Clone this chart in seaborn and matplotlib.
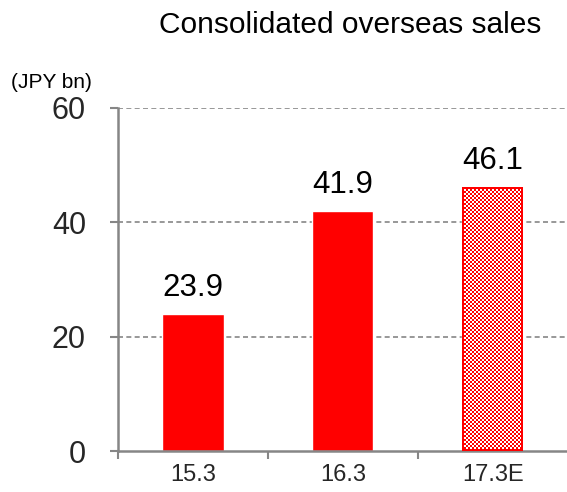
import numpy as np
import matplotlib
matplotlib.use("Agg")
import matplotlib.pyplot as plt
import matplotlib.colors as mcolors
import seaborn as sns

# Fiscal-year categories and overseas sales (JPY bn)
years = ["15.3", "16.3", "17.3E"]
sales = [23.9, 41.9, 46.1]
labels = ["23.9", "41.9", "46.1"]
forecast = [False, False, True]
y_ticks = [0, 20, 40, 60]

sns.set_theme(style="white")
plt.rcParams["font.family"] = ["Liberation Sans", "DejaVu Sans"]

RED = "#FF0000"
GRAY = "#868686"

fig = plt.figure(figsize=(5.67, 4.92), dpi=100)
ax = fig.add_axes([0.208, 0.0833, 0.793, 0.6972])

sns.barplot(x=years, y=sales, color=RED, width=0.41, saturation=1,
            ax=ax, zorder=3)

ax.set_ylim(0, 60)
ax.set_xlim(-0.5, 2.5)
ax.set_yticks(y_ticks)
ax.set_yticklabels([str(t) for t in y_ticks], fontsize=22)
ax.tick_params(axis="x", labelsize=17, length=0, pad=9)
ax.tick_params(axis="y", length=6, width=1.5, color=GRAY, pad=17,
               left=True)

# boundary ticks between categories on the x axis
ax.set_xticks([-0.5, 0.5, 1.5], minor=True)
ax.tick_params(axis="x", which="minor", bottom=True, length=6, width=1.5,
               color=GRAY, direction="out")

for t in [20, 40, 60]:
    ax.axhline(t, color=GRAY, lw=1.2, ls=(0, (3, 2)), zorder=1)

for side in ["top", "right"]:
    ax.spines[side].set_visible(False)
for side in ["left", "bottom"]:
    ax.spines[side].set_color(GRAY)
    ax.spines[side].set_linewidth(1.8)
    ax.spines[side].set_zorder(4)

for i, (v, lab) in enumerate(zip(sales, labels)):
    ax.annotate(lab, (i, v), xytext=(0, 8), textcoords="offset points",
                ha="center", va="bottom", fontsize=22.5, color="black")

ax.set_xlabel("")
ax.set_ylabel("")

fig.text(0.954, 0.933, "Consolidated overseas sales", ha="right",
         va="baseline", fontsize=21.5, color="black")
fig.text(0.020, 0.833, "(JPY bn)", ha="left", va="center", fontsize=15,
         color="black")

fig.canvas.draw()

# checkerboard texture for the forecast bar, laid pixel-for-pixel over it
W, H = fig.canvas.get_width_height()
red_rgba = np.array(mcolors.to_rgba(RED))
white_rgba = np.array([1.0, 1.0, 1.0, 1.0])
for patch, is_fc in zip(ax.patches, forecast):
    if not is_fc:
        continue
    bb = patch.get_window_extent()
    x0, x1 = int(round(bb.x0)), int(round(bb.x1))
    y0, y1 = int(round(bb.y0)), int(round(bb.y1))
    tex = np.zeros((H, W, 4))
    yy, xx = np.mgrid[0:y1 - y0, 0:x1 - x0]
    cells = ((xx // 2 + yy // 2) % 2)[..., None]
    block = np.where(cells == 1, white_rgba, red_rgba)
    # solid red outline
    b = 2
    block[:b, :] = red_rgba
    block[-b:, :] = red_rgba
    block[:, :b] = red_rgba
    block[:, -b:] = red_rgba
    tex[y0:y1, x0:x1] = block
    fig.figimage(tex, xo=0, yo=0, origin="lower", zorder=5)

fig.savefig("out.png", dpi=100)
